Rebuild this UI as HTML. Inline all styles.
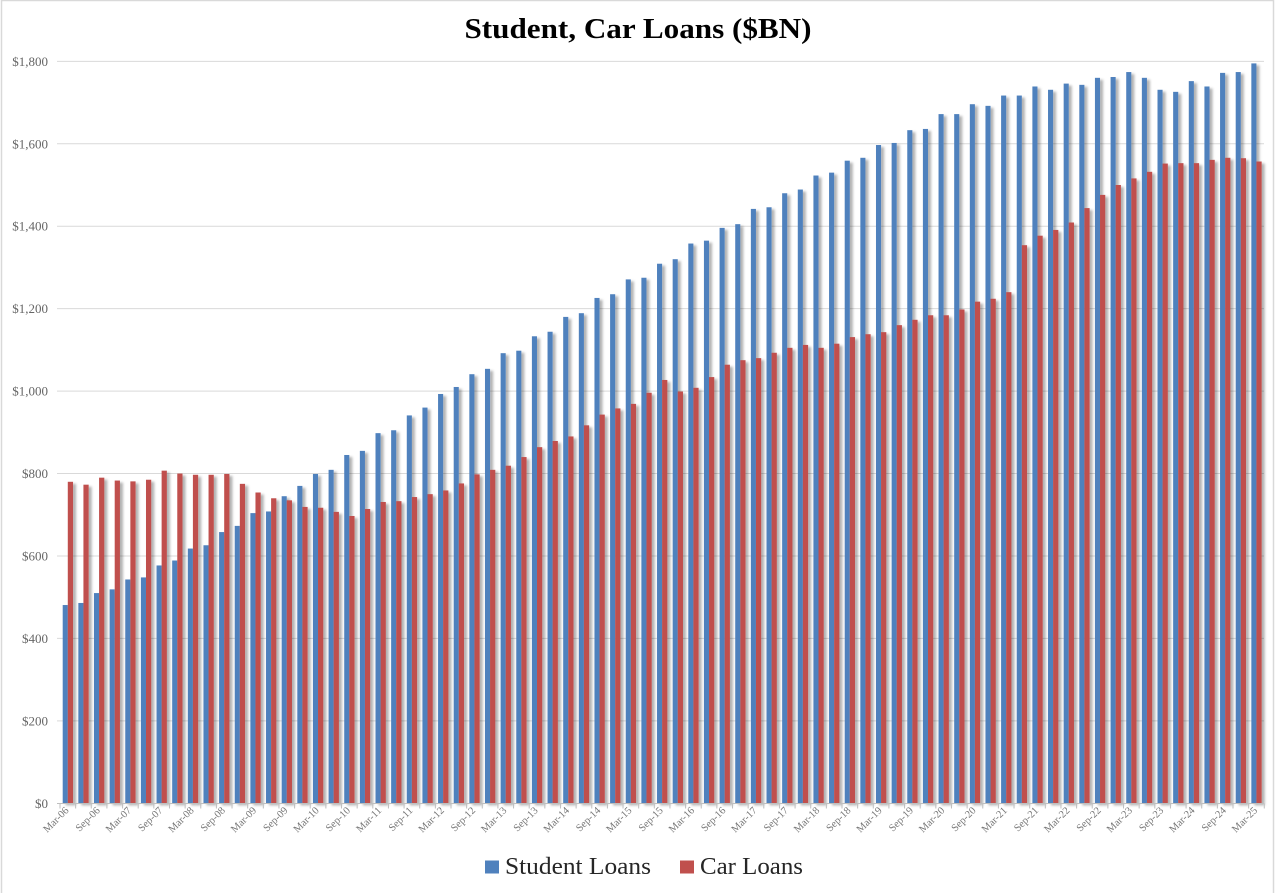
<!DOCTYPE html>
<html><head><meta charset="utf-8"><style>
html,body{margin:0;padding:0;background:#fff;}
svg{display:block;}
</style></head><body>
<svg width="1280" height="893" viewBox="0 0 1280 893" xmlns="http://www.w3.org/2000/svg">
<defs>
<filter id="sh" x="-5%" y="-5%" width="110%" height="110%">
<feDropShadow dx="3" dy="2" stdDeviation="1.4" flood-color="#000" flood-opacity="0.3"/>
</filter>
</defs>
<rect width="1280" height="893" fill="#fff"/>
<path d="M1.5 893V0.5H1273.5V893" fill="none" stroke="#d9d9d9" stroke-width="1.5"/>
<text x="638" y="38" text-anchor="middle" font-family="Liberation Serif, serif" font-weight="bold" font-size="28" fill="#000" textLength="347" lengthAdjust="spacingAndGlyphs">Student, Car Loans ($BN)</text>
<g stroke="#d9d9d9" stroke-width="1">
<line x1="57" x2="1264" y1="720.86" y2="720.86"/>
<line x1="57" x2="1264" y1="638.42" y2="638.42"/>
<line x1="57" x2="1264" y1="555.98" y2="555.98"/>
<line x1="57" x2="1264" y1="473.54" y2="473.54"/>
<line x1="57" x2="1264" y1="391.1" y2="391.1"/>
<line x1="57" x2="1264" y1="308.66" y2="308.66"/>
<line x1="57" x2="1264" y1="226.22" y2="226.22"/>
<line x1="57" x2="1264" y1="143.78" y2="143.78"/>
<line x1="57" x2="1264" y1="61.34" y2="61.34"/>
</g>
<g font-family="Liberation Serif, serif" font-size="13" fill="#666666" text-anchor="end">
<text x="48" y="807.8">$0</text>
<text x="48" y="725.4">$200</text>
<text x="48" y="642.9">$400</text>
<text x="48" y="560.5">$600</text>
<text x="48" y="478">$800</text>
<text x="48" y="395.6">$1,000</text>
<text x="48" y="313.2">$1,200</text>
<text x="48" y="230.7">$1,400</text>
<text x="48" y="148.3">$1,600</text>
<text x="48" y="65.8">$1,800</text>
</g>
<g filter="url(#sh)">
<g transform="translate(62.7,803.3) scale(15.64,-0.4122)" fill="#4F81BD">
<rect x="0" width=".325" height="481"/><rect x="1" width=".325" height="486"/><rect x="2" width=".325" height="510"/><rect x="3" width=".325" height="519"/><rect x="4" width=".325" height="543"/><rect x="5" width=".325" height="548"/><rect x="6" width=".325" height="577"/><rect x="7" width=".325" height="589"/><rect x="8" width=".325" height="618"/><rect x="9" width=".325" height="626"/>
<rect x="10" width=".325" height="658"/><rect x="11" width=".325" height="673"/><rect x="12" width=".325" height="704"/><rect x="13" width=".325" height="708"/><rect x="14" width=".325" height="745"/><rect x="15" width=".325" height="770"/><rect x="16" width=".325" height="799"/><rect x="17" width=".325" height="809"/><rect x="18" width=".325" height="845"/><rect x="19" width=".325" height="855"/>
<rect x="20" width=".325" height="898"/><rect x="21" width=".325" height="905"/><rect x="22" width=".325" height="941"/><rect x="23" width=".325" height="960"/><rect x="24" width=".325" height="993"/><rect x="25" width=".325" height="1010"/><rect x="26" width=".325" height="1041"/><rect x="27" width=".325" height="1054"/><rect x="28" width=".325" height="1092"/><rect x="29" width=".325" height="1098"/>
<rect x="30" width=".325" height="1133"/><rect x="31" width=".325" height="1144"/><rect x="32" width=".325" height="1180"/><rect x="33" width=".325" height="1189"/><rect x="34" width=".325" height="1226"/><rect x="35" width=".325" height="1235"/><rect x="36" width=".325" height="1271"/><rect x="37" width=".325" height="1275"/><rect x="38" width=".325" height="1309"/><rect x="39" width=".325" height="1320"/>
<rect x="40" width=".325" height="1358"/><rect x="41" width=".325" height="1365"/><rect x="42" width=".325" height="1396"/><rect x="43" width=".325" height="1405"/><rect x="44" width=".325" height="1442"/><rect x="45" width=".325" height="1446"/><rect x="46" width=".325" height="1480"/><rect x="47" width=".325" height="1489"/><rect x="48" width=".325" height="1523"/><rect x="49" width=".325" height="1530"/>
<rect x="50" width=".325" height="1559"/><rect x="51" width=".325" height="1566"/><rect x="52" width=".325" height="1597"/><rect x="53" width=".325" height="1602"/><rect x="54" width=".325" height="1633"/><rect x="55" width=".325" height="1636"/><rect x="56" width=".325" height="1672"/><rect x="57" width=".325" height="1672"/><rect x="58" width=".325" height="1696"/><rect x="59" width=".325" height="1692"/>
<rect x="60" width=".325" height="1717"/><rect x="61" width=".325" height="1717"/><rect x="62" width=".325" height="1739"/><rect x="63" width=".325" height="1731"/><rect x="64" width=".325" height="1746"/><rect x="65" width=".325" height="1743"/><rect x="66" width=".325" height="1760"/><rect x="67" width=".325" height="1762"/><rect x="68" width=".325" height="1774"/><rect x="69" width=".325" height="1760"/>
<rect x="70" width=".325" height="1731"/><rect x="71" width=".325" height="1726"/><rect x="72" width=".325" height="1752"/><rect x="73" width=".325" height="1739"/><rect x="74" width=".325" height="1772"/><rect x="75" width=".325" height="1774"/><rect x="76" width=".325" height="1795"/>
</g>
</g>
<g filter="url(#sh)">
<g transform="translate(62.7,803.3) scale(15.64,-0.4122)" fill="#C0504D">
<rect x="0.325" width=".335" height="780"/><rect x="1.325" width=".335" height="773"/><rect x="2.325" width=".335" height="790"/><rect x="3.325" width=".335" height="783"/><rect x="4.325" width=".335" height="781"/><rect x="5.325" width=".335" height="785"/><rect x="6.325" width=".335" height="807"/><rect x="7.325" width=".335" height="800"/><rect x="8.325" width=".335" height="797"/><rect x="9.325" width=".335" height="797"/>
<rect x="10.325" width=".335" height="799"/><rect x="11.325" width=".335" height="775"/><rect x="12.325" width=".335" height="754"/><rect x="13.325" width=".335" height="740"/><rect x="14.325" width=".335" height="735"/><rect x="15.325" width=".335" height="719"/><rect x="16.325" width=".335" height="717"/><rect x="17.325" width=".335" height="707"/><rect x="18.325" width=".335" height="697"/><rect x="19.325" width=".335" height="714"/>
<rect x="20.325" width=".335" height="731"/><rect x="21.325" width=".335" height="733"/><rect x="22.325" width=".335" height="743"/><rect x="23.325" width=".335" height="750"/><rect x="24.325" width=".335" height="759"/><rect x="25.325" width=".335" height="776"/><rect x="26.325" width=".335" height="798"/><rect x="27.325" width=".335" height="809"/><rect x="28.325" width=".335" height="819"/><rect x="29.325" width=".335" height="840"/>
<rect x="30.325" width=".335" height="864"/><rect x="31.325" width=".335" height="879"/><rect x="32.325" width=".335" height="890"/><rect x="33.325" width=".335" height="917"/><rect x="34.325" width=".335" height="943"/><rect x="35.325" width=".335" height="958"/><rect x="36.325" width=".335" height="969"/><rect x="37.325" width=".335" height="996"/><rect x="38.325" width=".335" height="1027"/><rect x="39.325" width=".335" height="999"/>
<rect x="40.325" width=".335" height="1008"/><rect x="41.325" width=".335" height="1034"/><rect x="42.325" width=".335" height="1064"/><rect x="43.325" width=".335" height="1075"/><rect x="44.325" width=".335" height="1080"/><rect x="45.325" width=".335" height="1093"/><rect x="46.325" width=".335" height="1105"/><rect x="47.325" width=".335" height="1112"/><rect x="48.325" width=".335" height="1105"/><rect x="49.325" width=".335" height="1115"/>
<rect x="50.325" width=".335" height="1131"/><rect x="51.325" width=".335" height="1138"/><rect x="52.325" width=".335" height="1143"/><rect x="53.325" width=".335" height="1160"/><rect x="54.325" width=".335" height="1173"/><rect x="55.325" width=".335" height="1184"/><rect x="56.325" width=".335" height="1184"/><rect x="57.325" width=".335" height="1198"/><rect x="58.325" width=".335" height="1217"/><rect x="59.325" width=".335" height="1224"/>
<rect x="60.325" width=".335" height="1240"/><rect x="61.325" width=".335" height="1354"/><rect x="62.325" width=".335" height="1377"/><rect x="63.325" width=".335" height="1391"/><rect x="64.325" width=".335" height="1409"/><rect x="65.325" width=".335" height="1444"/><rect x="66.325" width=".335" height="1476"/><rect x="67.325" width=".335" height="1500"/><rect x="68.325" width=".335" height="1516"/><rect x="69.325" width=".335" height="1532"/>
<rect x="70.325" width=".335" height="1552"/><rect x="71.325" width=".335" height="1553"/><rect x="72.325" width=".335" height="1553"/><rect x="73.325" width=".335" height="1561"/><rect x="74.325" width=".335" height="1566"/><rect x="75.325" width=".335" height="1565"/><rect x="76.325" width=".335" height="1557"/>
</g>
</g>
<line x1="57" x2="1264.3" y1="803.5" y2="803.5" stroke="#bfbfbf" stroke-width="1"/>
<g transform="translate(60,803.5) scale(15.64,1)">
<path vector-effect="non-scaling-stroke" stroke="#bfbfbf" stroke-width="1" fill="none" d="M0 0V5M1 0V5M2 0V5M3 0V5M4 0V5M5 0V5M6 0V5M7 0V5M8 0V5M9 0V5M10 0V5M11 0V5M12 0V5M13 0V5M14 0V5M15 0V5M16 0V5M17 0V5M18 0V5M19 0V5M20 0V5M21 0V5M22 0V5M23 0V5M24 0V5M25 0V5M26 0V5M27 0V5M28 0V5M29 0V5M30 0V5M31 0V5M32 0V5M33 0V5M34 0V5M35 0V5M36 0V5M37 0V5M38 0V5M39 0V5M40 0V5M41 0V5M42 0V5M43 0V5M44 0V5M45 0V5M46 0V5M47 0V5M48 0V5M49 0V5M50 0V5M51 0V5M52 0V5M53 0V5M54 0V5M55 0V5M56 0V5M57 0V5M58 0V5M59 0V5M60 0V5M61 0V5M62 0V5M63 0V5M64 0V5M65 0V5M66 0V5M67 0V5M68 0V5M69 0V5M70 0V5M71 0V5M72 0V5M73 0V5M74 0V5M75 0V5M76 0V5M77 0V5"/>
</g>
<g font-family="Liberation Serif, serif" font-size="10.5" fill="#777777" text-anchor="end">
<text transform="translate(69.32,811) rotate(-45)">Mar-06</text>
<text transform="translate(100.6,811) rotate(-45)">Sep-06</text>
<text transform="translate(131.88,811) rotate(-45)">Mar-07</text>
<text transform="translate(163.16,811) rotate(-45)">Sep-07</text>
<text transform="translate(194.44,811) rotate(-45)">Mar-08</text>
<text transform="translate(225.72,811) rotate(-45)">Sep-08</text>
<text transform="translate(257,811) rotate(-45)">Mar-09</text>
<text transform="translate(288.28,811) rotate(-45)">Sep-09</text>
<text transform="translate(319.56,811) rotate(-45)">Mar-10</text>
<text transform="translate(350.84,811) rotate(-45)">Sep-10</text>
<text transform="translate(382.12,811) rotate(-45)">Mar-11</text>
<text transform="translate(413.4,811) rotate(-45)">Sep-11</text>
<text transform="translate(444.68,811) rotate(-45)">Mar-12</text>
<text transform="translate(475.96,811) rotate(-45)">Sep-12</text>
<text transform="translate(507.24,811) rotate(-45)">Mar-13</text>
<text transform="translate(538.52,811) rotate(-45)">Sep-13</text>
<text transform="translate(569.8,811) rotate(-45)">Mar-14</text>
<text transform="translate(601.08,811) rotate(-45)">Sep-14</text>
<text transform="translate(632.36,811) rotate(-45)">Mar-15</text>
<text transform="translate(663.64,811) rotate(-45)">Sep-15</text>
<text transform="translate(694.92,811) rotate(-45)">Mar-16</text>
<text transform="translate(726.2,811) rotate(-45)">Sep-16</text>
<text transform="translate(757.48,811) rotate(-45)">Mar-17</text>
<text transform="translate(788.76,811) rotate(-45)">Sep-17</text>
<text transform="translate(820.04,811) rotate(-45)">Mar-18</text>
<text transform="translate(851.32,811) rotate(-45)">Sep-18</text>
<text transform="translate(882.6,811) rotate(-45)">Mar-19</text>
<text transform="translate(913.88,811) rotate(-45)">Sep-19</text>
<text transform="translate(945.16,811) rotate(-45)">Mar-20</text>
<text transform="translate(976.44,811) rotate(-45)">Sep-20</text>
<text transform="translate(1007.72,811) rotate(-45)">Mar-21</text>
<text transform="translate(1039,811) rotate(-45)">Sep-21</text>
<text transform="translate(1070.28,811) rotate(-45)">Mar-22</text>
<text transform="translate(1101.56,811) rotate(-45)">Sep-22</text>
<text transform="translate(1132.84,811) rotate(-45)">Mar-23</text>
<text transform="translate(1164.12,811) rotate(-45)">Sep-23</text>
<text transform="translate(1195.4,811) rotate(-45)">Mar-24</text>
<text transform="translate(1226.68,811) rotate(-45)">Sep-24</text>
<text transform="translate(1257.96,811) rotate(-45)">Mar-25</text>
</g>
<rect x="485" y="860.5" width="14" height="13" fill="#4F81BD"/>
<text x="505" y="874" font-family="Liberation Serif, serif" font-size="24" fill="#262626" textLength="146" lengthAdjust="spacingAndGlyphs">Student Loans</text>
<rect x="680" y="860.5" width="14" height="13" fill="#C0504D"/>
<text x="700" y="874" font-family="Liberation Serif, serif" font-size="24" fill="#262626" textLength="103" lengthAdjust="spacingAndGlyphs">Car Loans</text>
</svg>
</body></html>
